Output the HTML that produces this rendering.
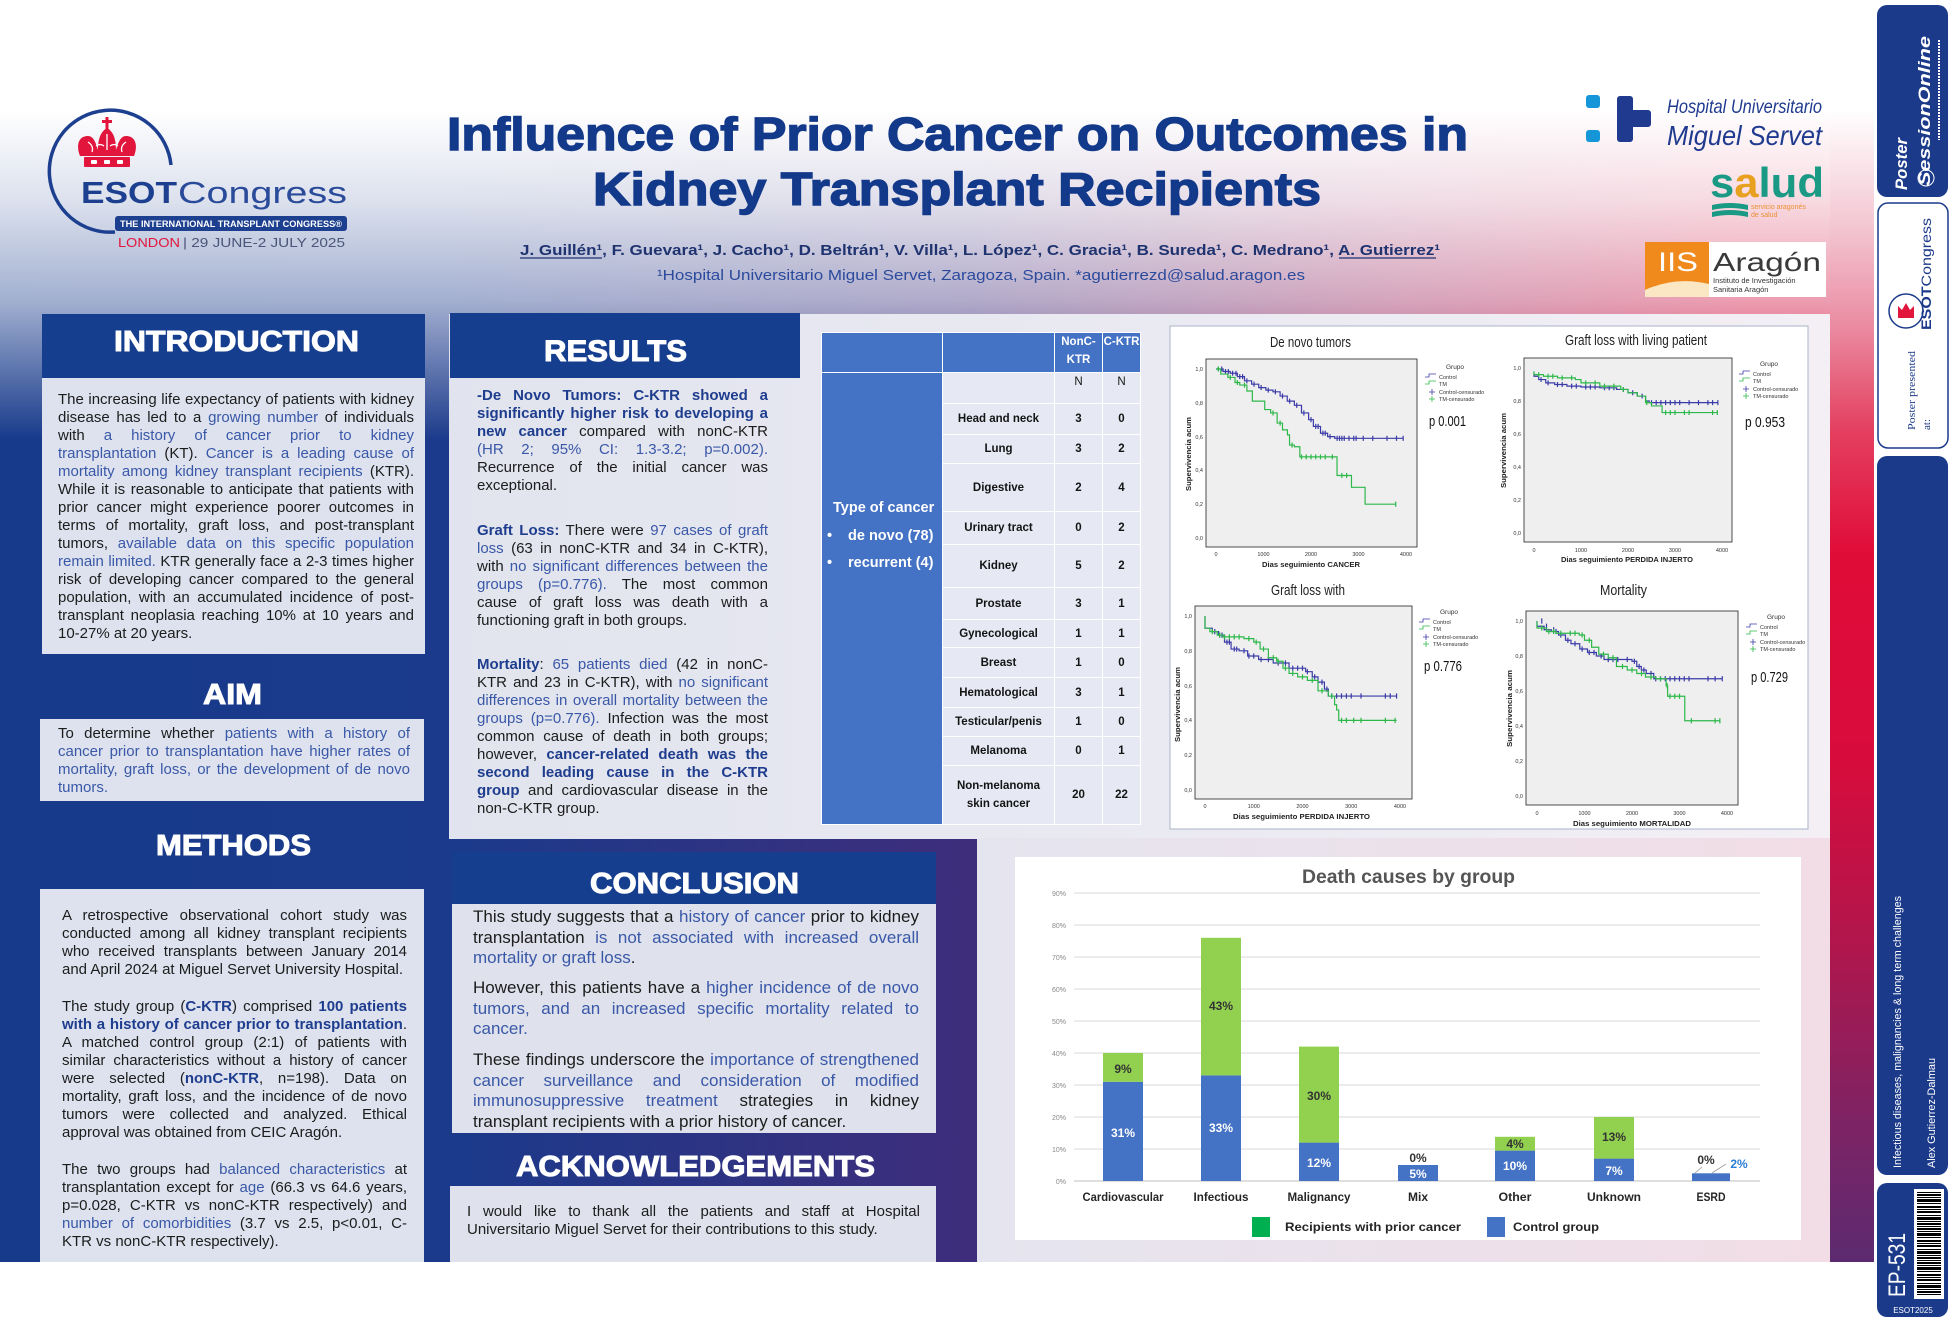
<!DOCTYPE html>
<html><head><meta charset="utf-8">
<style>
html,body{margin:0;padding:0}
body{width:1952px;height:1322px;position:relative;overflow:hidden;background:#fff;font-family:"Liberation Sans",Arial,sans-serif}
svg.main{position:absolute;left:0;top:0}
.t{position:absolute;font-family:"Liberation Sans",Arial,sans-serif;font-size:15px;line-height:18px;color:#1c1c1c}
.t>div{height:18px;overflow:hidden;text-align:justify;text-align-last:justify}
.t>div.l{text-align:left;text-align-last:left}
.t2{font-size:17px;line-height:20.5px}
.t2>div{height:20.5px}
.b{color:#3a58a8}
.k{color:#1f3d8e;font-weight:bold}
table.tb{position:absolute;left:821px;top:332px;border-collapse:collapse;table-layout:fixed;width:319px;font-family:"Liberation Sans",Arial,sans-serif}
.tb td{border:1px solid #fff;padding:0;text-align:center;vertical-align:middle;font-size:11.5px;font-weight:bold;color:#141414;background:#e6e9f3}
.tb tr.h td{background:#4472c4;color:#fff;vertical-align:top;line-height:18px;font-size:11.5px}
.tb td.c1{background:#4472c4}
.tc{position:absolute;color:#fff;font-weight:bold;font-size:14.5px;line-height:18px;font-family:"Liberation Sans",Arial,sans-serif;white-space:nowrap}
</style></head><body>
<svg class="main" width="1952" height="1322" viewBox="0 0 1952 1322" xmlns="http://www.w3.org/2000/svg">
<defs>
<linearGradient id="bgH" gradientUnits="userSpaceOnUse" x1="0" y1="0" x2="1874" y2="0">
<stop offset="0" stop-color="#173a8b"/><stop offset=".24" stop-color="#1b3a8b"/><stop offset=".52" stop-color="#3e2d7b"/><stop offset=".75" stop-color="#9a1f58"/><stop offset=".93" stop-color="#d00c3c"/><stop offset="1" stop-color="#d00c3c"/>
</linearGradient>
<linearGradient id="bgW" gradientUnits="userSpaceOnUse" x1="0" y1="0" x2="0" y2="440">
<stop offset="0" stop-color="#fff" stop-opacity="1"/><stop offset=".25" stop-color="#fff" stop-opacity="1"/><stop offset=".4545" stop-color="#fff" stop-opacity=".85"/><stop offset=".682" stop-color="#fff" stop-opacity=".6"/><stop offset=".84" stop-color="#fff" stop-opacity=".3"/><stop offset="1" stop-color="#fff" stop-opacity="0"/>
</linearGradient>
<linearGradient id="stp" gradientUnits="userSpaceOnUse" x1="0" y1="0" x2="0" y2="1262">
<stop offset="0" stop-color="#fff"/><stop offset=".087" stop-color="#fff"/><stop offset=".18" stop-color="#f3c6d2"/><stop offset=".26" stop-color="#ea8aa0"/><stop offset=".34" stop-color="#e44060"/><stop offset=".44" stop-color="#e00c38"/><stop offset=".6" stop-color="#d80c3c"/><stop offset=".75" stop-color="#b0164c"/><stop offset=".9" stop-color="#7a2466"/><stop offset="1" stop-color="#5c2a70"/>
</linearGradient>
<linearGradient id="resG" x1="0" y1="0" x2="1" y2="0"><stop offset="0" stop-color="#e1e4ee"/><stop offset="1" stop-color="#f3eff5"/></linearGradient>
<linearGradient id="chG" x1="0" y1="0" x2="1" y2="0"><stop offset="0" stop-color="#e5e5ef"/><stop offset="1" stop-color="#f2dde6"/></linearGradient>
</defs>

<!-- background -->
<rect x="0" y="0" width="1874" height="1262" fill="url(#bgH)"/>
<rect x="0" y="0" width="1874" height="1262" fill="url(#bgW)"/>
<rect x="1830" y="0" width="44" height="1262" fill="url(#stp)"/>

<!-- panels -->
<rect x="42" y="314" width="383" height="64" fill="#163e8e"/>
<rect x="42" y="378" width="383" height="276" fill="#dde2ee"/>
<rect x="40" y="719" width="384" height="82" fill="#dde2ee"/>
<rect x="40" y="889" width="384" height="373" fill="#dde2ee"/>
<rect x="449" y="314" width="1381" height="525" fill="url(#resG)"/>
<rect x="450" y="313" width="350" height="65" fill="#163e8e"/>
<rect x="452" y="852" width="484" height="52" fill="#163e8e"/>
<rect x="452" y="904" width="484" height="229" fill="#dfe2ec"/>
<rect x="450" y="1186" width="486" height="76" fill="#dfe2ec"/>
<rect x="977" y="838" width="853" height="424" fill="url(#chG)"/>
<rect x="1015" y="857" width="786" height="383" fill="#fff"/>
<rect x="1170" y="326" width="638" height="503" fill="#fff" stroke="#a9b3c8" stroke-width="1"/>

<!-- section headers -->
<g font-family="Liberation Sans, Arial, sans-serif" font-weight="bold" fill="#fff" stroke="#fff" stroke-width="1">
<text x="114" y="351" font-size="29" textLength="245" lengthAdjust="spacingAndGlyphs">INTRODUCTION</text>
<text x="544" y="361" font-size="30" textLength="143" lengthAdjust="spacingAndGlyphs">RESULTS</text>
<text x="203" y="704" font-size="29" textLength="59" lengthAdjust="spacingAndGlyphs">AIM</text>
<text x="156" y="855" font-size="29" textLength="155" lengthAdjust="spacingAndGlyphs">METHODS</text>
<text x="590" y="893" font-size="29" textLength="209" lengthAdjust="spacingAndGlyphs">CONCLUSION</text>
<text x="516" y="1176" font-size="29" textLength="359" lengthAdjust="spacingAndGlyphs">ACKNOWLEDGEMENTS</text>
</g>

<!-- title -->
<g font-family="Liberation Sans, Arial, sans-serif" font-weight="bold" fill="#13398a" stroke="#13398a" stroke-width="1.4">
<text x="447" y="150" font-size="46" textLength="1021" lengthAdjust="spacingAndGlyphs">Influence of Prior Cancer on Outcomes in</text>
<text x="593" y="205" font-size="46" textLength="728" lengthAdjust="spacingAndGlyphs">Kidney Transplant Recipients</text>
</g>
<text x="520" y="255" font-size="15" font-weight="bold" fill="#1f3370" textLength="920" lengthAdjust="spacingAndGlyphs" font-family="Liberation Sans, Arial, sans-serif">J. Guillén¹, F. Guevara¹, J. Cacho¹, D. Beltrán¹, V. Villa¹, L. López¹, C. Gracia¹, B. Sureda¹, C. Medrano¹, A. Gutierrez¹</text>
<line x1="520" y1="258" x2="602" y2="258" stroke="#1f3370" stroke-width="1.2"/>
<line x1="1339" y1="258" x2="1436" y2="258" stroke="#1f3370" stroke-width="1.2"/>
<text x="657" y="280" font-size="15" fill="#2b4a9c" textLength="648" lengthAdjust="spacingAndGlyphs" font-family="Liberation Sans, Arial, sans-serif">¹Hospital Universitario Miguel Servet, Zaragoza, Spain. *agutierrezd@salud.aragon.es</text>

<!-- ESOT logo -->
<path d="M171 165 A61 61 0 1 0 115 232" fill="none" stroke="#1c3f8f" stroke-width="3.5"/>
<g fill="#e2163c">
<rect x="84" y="157" width="46" height="10" rx="1"/>
<path d="M80 156 C76 146 78 136 88 136 C94 136 96 144 98 150 C98 140 100 132 107 128 C114 132 116 140 116 150 C118 144 120 136 126 136 C136 136 138 146 134 156 Z"/>
<rect x="105.5" y="117" width="3" height="12"/><rect x="102" y="120" width="10" height="3"/>
</g>
<g fill="#fff"><rect x="91" y="160" width="6" height="4" rx="1"/><rect x="104" y="160" width="6" height="4" rx="1"/><rect x="117" y="160" width="6" height="4" rx="1"/></g>
<path d="M88 142 q6 4 4 10 M126 142 q-6 4 -4 10 M107 134 v16 M96 146 q4 -3 8 0 M110 146 q4 -3 8 0" stroke="#fff" stroke-width="1.3" fill="none"/>
<text x="81" y="203" font-size="31" font-weight="bold" fill="#1c3f8f" textLength="96" lengthAdjust="spacingAndGlyphs" font-family="Liberation Sans, Arial, sans-serif">ESOT</text>
<text x="178" y="203" font-size="31" fill="#2a4a9a" textLength="169" lengthAdjust="spacingAndGlyphs" font-family="Liberation Sans, Arial, sans-serif">Congress</text>
<rect x="115" y="216" width="232" height="15" rx="3" fill="#1c3f8f"/>
<text x="120" y="227" font-size="9" font-weight="bold" fill="#fff" textLength="222" lengthAdjust="spacingAndGlyphs" font-family="Liberation Sans, Arial, sans-serif">THE INTERNATIONAL TRANSPLANT CONGRESS®</text>
<text x="118" y="247" font-size="13" fill="#e2163c" textLength="62" lengthAdjust="spacingAndGlyphs" font-family="Liberation Sans, Arial, sans-serif">LONDON</text>
<text x="183" y="247" font-size="13" fill="#4a5578" textLength="162" lengthAdjust="spacingAndGlyphs" font-family="Liberation Sans, Arial, sans-serif">| 29 JUNE-2 JULY 2025</text>

<!-- Hospital logo -->
<rect x="1586" y="95" width="14" height="13" rx="3" fill="#1596d8"/>
<rect x="1586" y="130" width="14" height="12" rx="3" fill="#1596d8"/>
<rect x="1617" y="96" width="16" height="46" rx="3" fill="#1f3a8e"/>
<rect x="1617" y="110" width="34" height="17" rx="3" fill="#1f3a8e"/>
<text x="1667" y="113" font-size="19" font-style="italic" fill="#1f3a8e" textLength="155" lengthAdjust="spacingAndGlyphs" font-family="Liberation Sans, Arial, sans-serif">Hospital Universitario</text>
<text x="1667" y="145" font-size="28" font-style="italic" fill="#1f3a8e" textLength="155" lengthAdjust="spacingAndGlyphs" font-family="Liberation Sans, Arial, sans-serif">Miguel Servet</text>
<!-- salud -->
<text x="1710" y="197" font-size="42" font-weight="bold" font-family="Liberation Sans, Arial, sans-serif" textLength="114" lengthAdjust="spacingAndGlyphs"><tspan fill="#1a9a84">s</tspan><tspan fill="#e8a020">a</tspan><tspan fill="#1a9a84">lud</tspan></text>
<path d="M1712 205 q18 -4 36 0 v5 q-18 -4 -36 0 Z M1712 212 q18 -4 36 0 v5 q-18 -4 -36 0 Z" fill="#1a9a84"/>
<text x="1751" y="209" font-size="7" fill="#e89030" font-family="Liberation Sans, Arial, sans-serif">servicio aragonés</text>
<text x="1751" y="217" font-size="7" fill="#e89030" font-family="Liberation Sans, Arial, sans-serif">de salud</text>
<!-- IIS -->
<rect x="1645" y="242" width="181" height="55" fill="#fff"/>
<rect x="1645" y="242" width="64" height="55" fill="#f08a1c"/>
<path d="M1645 290 q30 -14 64 -6 v13 h-64 Z" fill="#fbe7c4"/>
<text x="1658" y="271" font-size="27" fill="#fff" textLength="40" lengthAdjust="spacingAndGlyphs" font-family="Liberation Sans, Arial, sans-serif">IIS</text>
<text x="1713" y="271" font-size="26" fill="#3a3a3a" textLength="108" lengthAdjust="spacingAndGlyphs" font-family="Liberation Sans, Arial, sans-serif">Aragón</text>
<text x="1713" y="283" font-size="7.5" fill="#333" font-family="Liberation Sans, Arial, sans-serif">Instituto de Investigación</text>
<text x="1713" y="292" font-size="7.5" fill="#333" font-family="Liberation Sans, Arial, sans-serif">Sanitaria Aragón</text>

<!-- ===== KM plots ===== -->
<g font-family="Liberation Sans, Arial, sans-serif">
<text x="1270" y="347" font-size="15" fill="#222" textLength="81" lengthAdjust="spacingAndGlyphs">De novo tumors</text>
<text x="1565" y="345" font-size="15" fill="#222" textLength="142" lengthAdjust="spacingAndGlyphs">Graft loss with living patient</text>
<text x="1271" y="595" font-size="15" fill="#222" textLength="74" lengthAdjust="spacingAndGlyphs">Graft loss with</text>
<text x="1600" y="595" font-size="15" fill="#222" textLength="47" lengthAdjust="spacingAndGlyphs">Mortality</text>

<rect x="1206" y="359" width="211" height="188" fill="#efefef" stroke="#222" stroke-width=".8"/>
<rect x="1524" y="358" width="208" height="184" fill="#efefef" stroke="#222" stroke-width=".8"/>
<rect x="1195" y="606" width="217" height="193" fill="#efefef" stroke="#222" stroke-width=".8"/>
<rect x="1526" y="611" width="212" height="194" fill="#efefef" stroke="#222" stroke-width=".8"/>

<g font-size="5.5" fill="#333" text-anchor="end">
<text x="1203" y="371">1,0</text><text x="1203" y="405">0,8</text><text x="1203" y="439">0,6</text><text x="1203" y="472">0,4</text><text x="1203" y="506">0,2</text><text x="1203" y="540">0,0</text>
<text x="1521" y="370">1,0</text><text x="1521" y="403">0,8</text><text x="1521" y="436">0,6</text><text x="1521" y="469">0,4</text><text x="1521" y="502">0,2</text><text x="1521" y="535">0,0</text>
<text x="1192" y="618">1,0</text><text x="1192" y="653">0,8</text><text x="1192" y="688">0,6</text><text x="1192" y="722">0,4</text><text x="1192" y="757">0,2</text><text x="1192" y="792">0,0</text>
<text x="1523" y="623">1,0</text><text x="1523" y="658">0,8</text><text x="1523" y="693">0,6</text><text x="1523" y="728">0,4</text><text x="1523" y="763">0,2</text><text x="1523" y="798">0,0</text>
</g>
<g font-size="5.5" fill="#333" text-anchor="middle">
<text x="1216" y="556">0</text><text x="1263.5" y="556">1000</text><text x="1311" y="556">2000</text><text x="1358.5" y="556">3000</text><text x="1406" y="556">4000</text>
<text x="1534" y="552">0</text><text x="1581" y="552">1000</text><text x="1628" y="552">2000</text><text x="1675" y="552">3000</text><text x="1722" y="552">4000</text>
<text x="1205" y="808">0</text><text x="1253.75" y="808">1000</text><text x="1302.5" y="808">2000</text><text x="1351.25" y="808">3000</text><text x="1400" y="808">4000</text>
<text x="1537" y="815">0</text><text x="1584.5" y="815">1000</text><text x="1632" y="815">2000</text><text x="1679.5" y="815">3000</text><text x="1727" y="815">4000</text>
</g>
<g font-size="7.5" font-weight="bold" fill="#222">
<text x="1262" y="567" textLength="98" lengthAdjust="spacingAndGlyphs">Dias seguimiento CANCER</text>
<text x="1561" y="562" textLength="132" lengthAdjust="spacingAndGlyphs">Dias seguimiento PERDIDA INJERTO</text>
<text x="1233" y="819" textLength="137" lengthAdjust="spacingAndGlyphs">Dias seguimiento PERDIDA INJERTO</text>
<text x="1573" y="826" textLength="118" lengthAdjust="spacingAndGlyphs">Dias seguimiento MORTALIDAD</text>
<text transform="translate(1191,491) rotate(-90)" textLength="74" lengthAdjust="spacingAndGlyphs">Supervivencia acum</text>
<text transform="translate(1506,488) rotate(-90)" textLength="75" lengthAdjust="spacingAndGlyphs">Supervivencia acum</text>
<text transform="translate(1180,742) rotate(-90)" textLength="75" lengthAdjust="spacingAndGlyphs">Supervivencia acum</text>
<text transform="translate(1512,747) rotate(-90)" textLength="77" lengthAdjust="spacingAndGlyphs">Supervivencia acum</text>
</g>
<g font-size="15" fill="#111">
<text x="1429" y="426" textLength="37" lengthAdjust="spacingAndGlyphs">p 0.001</text>
<text x="1745" y="427" textLength="40" lengthAdjust="spacingAndGlyphs">p 0.953</text>
<text x="1424" y="671" textLength="38" lengthAdjust="spacingAndGlyphs">p 0.776</text>
<text x="1751" y="682" textLength="37" lengthAdjust="spacingAndGlyphs">p 0.729</text>
</g>

<!-- legends -->
<g transform="translate(1455,369)" font-size="5.5" fill="#333">
<text x="0" y="0" text-anchor="middle" font-size="6.5">Grupo</text>
<path d="M-30 8 h4 v-3 h7" stroke="#3b3ba8" fill="none" stroke-width=".8"/><text x="-16" y="10">Control</text>
<path d="M-30 15 h4 v-3 h7" stroke="#2db84a" fill="none" stroke-width=".8"/><text x="-16" y="17">TM</text>
<path d="M-26 23 h6 M-23 20 v6" stroke="#3b3ba8" stroke-width=".8"/><text x="-16" y="25">Control-censurado</text>
<path d="M-26 30 h6 M-23 27 v6" stroke="#2db84a" stroke-width=".8"/><text x="-16" y="32">TM-censurado</text>
</g>
<g transform="translate(1769,366)" font-size="5.5" fill="#333">
<text x="0" y="0" text-anchor="middle" font-size="6.5">Grupo</text>
<path d="M-30 8 h4 v-3 h7" stroke="#3b3ba8" fill="none" stroke-width=".8"/><text x="-16" y="10">Control</text>
<path d="M-30 15 h4 v-3 h7" stroke="#2db84a" fill="none" stroke-width=".8"/><text x="-16" y="17">TM</text>
<path d="M-26 23 h6 M-23 20 v6" stroke="#3b3ba8" stroke-width=".8"/><text x="-16" y="25">Control-censurado</text>
<path d="M-26 30 h6 M-23 27 v6" stroke="#2db84a" stroke-width=".8"/><text x="-16" y="32">TM-censurado</text>
</g>
<g transform="translate(1449,614)" font-size="5.5" fill="#333">
<text x="0" y="0" text-anchor="middle" font-size="6.5">Grupo</text>
<path d="M-30 8 h4 v-3 h7" stroke="#3b3ba8" fill="none" stroke-width=".8"/><text x="-16" y="10">Control</text>
<path d="M-30 15 h4 v-3 h7" stroke="#2db84a" fill="none" stroke-width=".8"/><text x="-16" y="17">TM</text>
<path d="M-26 23 h6 M-23 20 v6" stroke="#3b3ba8" stroke-width=".8"/><text x="-16" y="25">Control-censurado</text>
<path d="M-26 30 h6 M-23 27 v6" stroke="#2db84a" stroke-width=".8"/><text x="-16" y="32">TM-censurado</text>
</g>
<g transform="translate(1776,619)" font-size="5.5" fill="#333">
<text x="0" y="0" text-anchor="middle" font-size="6.5">Grupo</text>
<path d="M-30 8 h4 v-3 h7" stroke="#3b3ba8" fill="none" stroke-width=".8"/><text x="-16" y="10">Control</text>
<path d="M-30 15 h4 v-3 h7" stroke="#2db84a" fill="none" stroke-width=".8"/><text x="-16" y="17">TM</text>
<path d="M-26 23 h6 M-23 20 v6" stroke="#3b3ba8" stroke-width=".8"/><text x="-16" y="25">Control-censurado</text>
<path d="M-26 30 h6 M-23 27 v6" stroke="#2db84a" stroke-width=".8"/><text x="-16" y="32">TM-censurado</text>
</g>
</g>

<!-- KM curves plot 1 -->
<svg x="1216" y="369" width="190" height="169" viewBox="0 0 4000 1000" preserveAspectRatio="none" overflow="visible">
<g fill="none" stroke-width="1.2">
<path vector-effect="non-scaling-stroke" stroke="#3b3ba8" d="M0 0 H150 V15 H300 V25 H450 V45 H600 V70 H750 V90 H900 V110 H1050 V125 H1200 V135 H1350 V160 H1500 V190 H1650 V215 H1800 V260 H1950 V300 H2050 V340 H2200 V380 H2350 V400 H2500 V410 H3940"/>
<path vector-effect="non-scaling-stroke" stroke="#3b3ba8" d="M50 -15v30M120 -15v30M200 0v30M260 0v30M350 10v30M420 10v30M500 30v30M560 30v30M650 55v30M800 75v30M950 95v30M1100 110v30M1250 120v30M1400 145v30M1550 175v30M1700 200v30M1850 245v30M2000 285v30M2100 325v30M2150 325v30M2250 365v30M2300 365v30M2400 385v30M2550 395v30M2600 395v30M2650 395v30M2700 395v30M2800 395v30M2900 395v30M2950 395v30M3100 395v30M3300 395v30M3600 395v30M3800 395v30M3940 395v30"/>
<path vector-effect="non-scaling-stroke" stroke="#2db84a" d="M0 0 H100 V30 H250 V50 H400 V80 H500 V95 H650 V130 H765 V190 H900 V190 H1026 V240 H1150 V260 H1287 V320 H1400 V360 H1504 V390 H1548 V450 H1650 V460 H1765 V520 H2548 V630 H2852 V700 H3139 V800 H3783"/>
<path vector-effect="non-scaling-stroke" stroke="#2db84a" d="M50 -15v30M300 35v30M450 65v30M600 80v30M1200 245v30M1350 305v30M1600 435v30M1800 505v30M1900 505v30M2000 505v30M2100 505v30M2200 505v30M2300 505v30M2450 505v30M2650 615v30M2750 615v30M3783 785v30"/>
</g>
</svg>
<!-- plot 2 -->
<svg x="1534" y="368" width="188" height="165" viewBox="0 0 4000 1000" preserveAspectRatio="none" overflow="visible">
<g fill="none" stroke-width="1.2">
<path vector-effect="non-scaling-stroke" stroke="#3b3ba8" d="M0 30 V50 H100 V70 H250 V90 H440 V100 H700 V110 H1000 V115 H1400 V120 H1758 V130 H2000 V150 H2198 V170 H2374 V200 H2450 V210 H3912"/>
<path vector-effect="non-scaling-stroke" stroke="#3b3ba8" d="M150 55v30M300 75v30M500 85v30M600 85v30M800 95v30M900 95v30M1100 100v30M1200 100v30M1300 100v30M1500 105v30M1600 105v30M1700 105v30M1900 115v30M2100 135v30M2300 155v30M2500 195v30M2600 195v30M2700 195v30M2800 195v30M2900 195v30M3000 195v30M3100 195v30M3300 195v30M3500 195v30M3700 195v30M3800 195v30M3912 195v30"/>
<path vector-effect="non-scaling-stroke" stroke="#2db84a" d="M0 20 V40 H200 V50 H500 V60 H879 V70 H1000 V90 H1400 V110 H1846 V130 H2000 V150 H2198 V170 H2374 V210 H2500 V230 H2725 V270 H3912"/>
<path vector-effect="non-scaling-stroke" stroke="#2db84a" d="M100 25v30M300 35v30M400 35v30M600 45v30M800 45v30M1100 75v30M1300 75v30M1500 95v30M1700 95v30M1900 115v30M2400 195v30M2800 255v30M2900 255v30M3000 255v30M3200 255v30M3300 255v30M3800 255v30M3900 255v30"/>
</g>
</svg>
<!-- plot 3 -->
<svg x="1205" y="616" width="195" height="174" viewBox="0 0 4000 1000" preserveAspectRatio="none" overflow="visible">
<g fill="none" stroke-width="1.2">
<path vector-effect="non-scaling-stroke" stroke="#3b3ba8" d="M0 0 V70 H150 V90 H280 V110 H400 V150 H535 V190 H700 V200 H875 V230 H1100 V250 H1400 V270 H1724 V300 H2064 V320 H2200 V350 H2318 V380 H2450 V420 H2530 V460 H3930"/>
<path vector-effect="non-scaling-stroke" stroke="#3b3ba8" d="M200 75v30M300 95v30M350 95v30M450 135v30M500 135v30M600 175v30M650 175v30M800 185v30M900 215v30M1000 215v30M1150 235v30M1300 235v30M1500 255v30M1650 255v30M1800 285v30M1900 285v30M2000 285v30M2100 305v30M2250 335v30M2400 365v30M2500 405v30M2600 445v30M2700 445v30M2800 445v30M2900 445v30M3000 445v30M3200 445v30M3700 445v30M3800 445v30M3930 445v30"/>
<path vector-effect="non-scaling-stroke" stroke="#2db84a" d="M0 0 V70 H100 V90 H250 V110 H365 V120 H800 V130 H1000 V150 H1130 V190 H1300 V240 H1470 V260 H1600 V300 H1724 V330 H1900 V350 H2100 V370 H2318 V430 H2530 V460 H2658 V510 H2700 V540 H2743 V600 H3930"/>
<path vector-effect="non-scaling-stroke" stroke="#2db84a" d="M150 75v30M300 95v30M400 105v30M500 105v30M600 105v30M700 105v30M900 115v30M1050 135v30M1200 175v30M1400 225v30M1500 245v30M1650 285v30M1800 315v30M2000 335v30M2200 355v30M2400 415v30M2600 445v30M2800 585v30M2900 585v30M3050 585v30M3200 585v30M3700 585v30M3900 585v30"/>
</g>
</svg>
<!-- plot 4 -->
<svg x="1537" y="621" width="190" height="175" viewBox="0 0 4000 1000" preserveAspectRatio="none" overflow="visible">
<g fill="none" stroke-width="1.2">
<path vector-effect="non-scaling-stroke" stroke="#3b3ba8" d="M0 0 V30 H150 V50 H300 V60 H453 V80 H600 V110 H715 V130 H900 V160 H1063 V180 H1250 V200 H1411 V220 H2000 V230 H2100 V260 H2196 V280 H2300 V300 H2458 V330 H3900"/>
<path vector-effect="non-scaling-stroke" stroke="#3b3ba8" d="M100 -15v30M200 15v30M350 35v30M400 45v30M500 65v30M650 95v30M800 115v30M950 145v30M1100 165v30M1200 165v30M1350 185v30M1500 205v30M1600 205v30M1700 205v30M1900 205v30M2050 215v30M2150 245v30M2250 265v30M2400 285v30M2500 315v30M2600 315v30M2700 315v30M2800 315v30M2900 315v30M3000 315v30M3100 315v30M3200 315v30M3600 315v30M3750 315v30M3900 315v30"/>
<path vector-effect="non-scaling-stroke" stroke="#2db84a" d="M0 0 V40 H200 V60 H400 V70 H889 V80 H1000 V110 H1150 V150 H1300 V190 H1500 V210 H1673 V260 H1900 V280 H2100 V300 H2283 V320 H2500 V330 H2719 V370 H2750 V430 H3111 V570 H3850"/>
<path vector-effect="non-scaling-stroke" stroke="#2db84a" d="M100 25v30M250 45v30M350 45v30M500 55v30M700 55v30M800 55v30M950 65v30M1100 95v30M1400 175v30M1600 195v30M1800 245v30M2000 265v30M2200 285v30M2400 305v30M2600 315v30M2740 355v30M2800 415v30M2900 415v30M3000 415v30M3250 555v30M3750 555v30M3850 555v30"/>
</g>
</svg>

<!-- ===== Bar chart ===== -->
<g font-family="Liberation Sans, Arial, sans-serif">
<text x="1302" y="883" font-size="19" font-weight="bold" fill="#555" textLength="213" lengthAdjust="spacingAndGlyphs">Death causes by group</text>
<g stroke="#d9d9d9" stroke-width="1">
<line x1="1074" y1="893" x2="1760" y2="893"/><line x1="1074" y1="925" x2="1760" y2="925"/><line x1="1074" y1="957" x2="1760" y2="957"/><line x1="1074" y1="989" x2="1760" y2="989"/><line x1="1074" y1="1021" x2="1760" y2="1021"/><line x1="1074" y1="1053" x2="1760" y2="1053"/><line x1="1074" y1="1085" x2="1760" y2="1085"/><line x1="1074" y1="1117" x2="1760" y2="1117"/><line x1="1074" y1="1149" x2="1760" y2="1149"/>
</g>
<line x1="1074" y1="1181" x2="1760" y2="1181" stroke="#bfbfbf" stroke-width="1"/>
<g font-size="7" fill="#888" text-anchor="end">
<text x="1066" y="896">90%</text><text x="1066" y="928">80%</text><text x="1066" y="960">70%</text><text x="1066" y="992">60%</text><text x="1066" y="1024">50%</text><text x="1066" y="1056">40%</text><text x="1066" y="1088">30%</text><text x="1066" y="1120">20%</text><text x="1066" y="1152">10%</text><text x="1066" y="1184">0%</text>
</g>
<g fill="#4472c4">
<rect x="1103" y="1081.8" width="40" height="99.2"/>
<rect x="1201" y="1075.4" width="40" height="105.6"/>
<rect x="1299" y="1142.6" width="40" height="38.4"/>
<rect x="1398" y="1165" width="40" height="16"/>
<rect x="1495" y="1150.6" width="40" height="30.4"/>
<rect x="1594" y="1158.6" width="40" height="22.4"/>
<rect x="1692" y="1173.3" width="38" height="7.7"/>
</g>
<g fill="#92d050">
<rect x="1103" y="1053" width="40" height="28.8"/>
<rect x="1201" y="937.8" width="40" height="137.6"/>
<rect x="1299" y="1046.6" width="40" height="96"/>
<rect x="1495" y="1136.8" width="40" height="13.8"/>
<rect x="1594" y="1117" width="40" height="41.6"/>
</g>
<g font-size="12" font-weight="bold" text-anchor="middle">
<text x="1123" y="1073" fill="#333">9%</text><text x="1123" y="1137" fill="#fff">31%</text>
<text x="1221" y="1010" fill="#333">43%</text><text x="1221" y="1132" fill="#fff">33%</text>
<text x="1319" y="1100" fill="#333">30%</text><text x="1319" y="1167" fill="#fff">12%</text>
<text x="1418" y="1162" fill="#333">0%</text><text x="1418" y="1178" fill="#fff">5%</text>
<text x="1515" y="1148" fill="#333">4%</text><text x="1515" y="1170" fill="#fff">10%</text>
<text x="1614" y="1141" fill="#333">13%</text><text x="1614" y="1175" fill="#fff">7%</text>
<text x="1706" y="1164" fill="#333">0%</text><text x="1739" y="1168" fill="#2a7fd4">2%</text>
</g>
<path d="M1695 1173 L1702 1167 M1712 1173 L1726 1164" stroke="#999" stroke-width=".8" fill="none"/>
<g font-size="12" font-weight="bold" fill="#262626" text-anchor="middle">
<text x="1123" y="1201" textLength="81" lengthAdjust="spacingAndGlyphs">Cardiovascular</text>
<text x="1221" y="1201" textLength="55" lengthAdjust="spacingAndGlyphs">Infectious</text>
<text x="1319" y="1201" textLength="63" lengthAdjust="spacingAndGlyphs">Malignancy</text>
<text x="1418" y="1201" textLength="20" lengthAdjust="spacingAndGlyphs">Mix</text>
<text x="1515" y="1201" textLength="33" lengthAdjust="spacingAndGlyphs">Other</text>
<text x="1614" y="1201" textLength="54" lengthAdjust="spacingAndGlyphs">Unknown</text>
<text x="1711" y="1201" textLength="29" lengthAdjust="spacingAndGlyphs">ESRD</text>
</g>
<rect x="1252" y="1217" width="18" height="20" fill="#00b050"/>
<text x="1285" y="1231" font-size="12" font-weight="bold" fill="#262626" textLength="176" lengthAdjust="spacingAndGlyphs">Recipients with prior cancer</text>
<rect x="1487" y="1217" width="18" height="20" fill="#4472c4"/>
<text x="1513" y="1231" font-size="12" font-weight="bold" fill="#262626" textLength="86" lengthAdjust="spacingAndGlyphs">Control group</text>
</g>

<!-- ===== Sidebar ===== -->
<g font-family="Liberation Sans, Arial, sans-serif">
<rect x="1877" y="5" width="71" height="192" rx="10" fill="#1b3a8a"/>
<text transform="translate(1907,190) rotate(-90)" font-size="17" font-weight="bold" font-style="italic" fill="#fff" textLength="52" lengthAdjust="spacingAndGlyphs">Poster</text>
<text transform="translate(1930,186) rotate(-90)" font-size="17" font-weight="bold" font-style="italic" fill="#fff" textLength="150" lengthAdjust="spacingAndGlyphs">SessionOnline</text>
<line x1="1939" y1="40" x2="1939" y2="140" stroke="#fff" stroke-width="2" stroke-dasharray="2 1"/>
<circle cx="1926" cy="178" r="8" fill="none" stroke="#fff" stroke-width="1"/>

<rect x="1878" y="203" width="70" height="245" rx="10" fill="#fff" stroke="#1b3a8a" stroke-width="1.5"/>
<circle cx="1906" cy="311" r="17" fill="none" stroke="#1b3a8a" stroke-width="1.5"/>
<path d="M1898 318 v-12 l4 4 l4 -7 l4 7 l4 -4 v12 Z" fill="#e2163c"/>
<text transform="translate(1931,330) rotate(-90)" font-size="14" fill="#1b3a8a" textLength="112" lengthAdjust="spacingAndGlyphs"><tspan font-weight="bold">ESOT</tspan>Congress</text>
<text transform="translate(1915,430) rotate(-90)" font-size="11" fill="#1b3a8a" font-family="Liberation Serif, serif" textLength="79" lengthAdjust="spacingAndGlyphs">Poster presented</text>
<text transform="translate(1930,430) rotate(-90)" font-size="11" fill="#1b3a8a" font-family="Liberation Serif, serif">at:</text>

<rect x="1877" y="456" width="71" height="719" rx="10" fill="#1b3a8a"/>
<text transform="translate(1901,1168) rotate(-90)" font-size="11" fill="#fff" textLength="272" lengthAdjust="spacingAndGlyphs">Infectious diseases, malignancies &amp; long term challenges</text>
<text transform="translate(1935,1168) rotate(-90)" font-size="11" fill="#fff" textLength="110" lengthAdjust="spacingAndGlyphs">Alex Gutierrez-Dalmau</text>

<rect x="1877" y="1183" width="71" height="134" rx="10" fill="#1b3a8a"/>
<text transform="translate(1905,1297) rotate(-90)" font-size="24" fill="#fff" textLength="64" lengthAdjust="spacingAndGlyphs">EP-531</text>
<rect x="1914" y="1189" width="30" height="110" fill="#fff"/>
<line x1="1929" y1="1192" x2="1929" y2="1296" stroke="#000" stroke-width="24" stroke-dasharray="1 1 2 1 1 1 3 1 1 2 2 1 1 1 2 2 1 1 3 1 1 1 2 1"/>
<text x="1913" y="1313" font-size="8" fill="#fff" text-anchor="middle">ESOT2025</text>
</g>
</svg>

<!-- ===== Text blocks ===== -->
<div class="t" style="left:58px;top:391px;width:356px">
<div>The increasing life expectancy of patients with kidney</div>
<div>disease has led to a <span class="b">growing number</span> of individuals</div>
<div>with <span class="b">a history of cancer prior to kidney</span></div>
<div><span class="b">transplantation</span> (KT). <span class="b">Cancer is a leading cause of</span></div>
<div><span class="b">mortality among kidney transplant recipients</span> (KTR).</div>
<div>While it is reasonable to anticipate that patients with</div>
<div>prior cancer might experience poorer outcomes in</div>
<div>terms of mortality, graft loss, and post-transplant</div>
<div>tumors, <span class="b">available data on this specific population</span></div>
<div><span class="b">remain limited.</span> KTR generally face a 2-3 times higher</div>
<div>risk of developing cancer compared to the general</div>
<div>population, with an accumulated incidence of post-</div>
<div>transplant neoplasia reaching 10% at 10 years and</div>
<div class="l">10-27% at 20 years.</div>
</div>

<div class="t" style="left:58px;top:725px;width:352px">
<div>To determine whether <span class="b">patients with a history of</span></div>
<div><span class="b">cancer prior to transplantation have higher rates of</span></div>
<div><span class="b">mortality, graft loss, or the development of de novo</span></div>
<div class="l"><span class="b">tumors.</span></div>
</div>

<div class="t" style="left:62px;top:907px;width:345px">
<div>A retrospective observational cohort study was</div>
<div>conducted among all kidney transplant recipients</div>
<div>who received transplants between January 2014</div>
<div class="l">and April 2024 at Miguel Servet University Hospital.</div>
</div>
<div class="t" style="left:62px;top:998px;width:345px">
<div>The study group (<span class="k">C-KTR</span>) comprised <span class="k">100 patients</span></div>
<div><span class="k">with a history of cancer prior to transplantation</span>.</div>
<div>A matched control group (2:1) of patients with</div>
<div>similar characteristics without a history of cancer</div>
<div>were selected (<span class="k">nonC-KTR</span>, n=198). Data on</div>
<div>mortality, graft loss, and the incidence of de novo</div>
<div>tumors were collected and analyzed. Ethical</div>
<div class="l">approval was obtained from CEIC Aragón.</div>
</div>
<div class="t" style="left:62px;top:1161px;width:345px">
<div>The two groups had <span class="b">balanced characteristics</span> at</div>
<div>transplantation except for <span class="b">age</span> (66.3 vs 64.6 years,</div>
<div>p=0.028, C-KTR vs nonC-KTR respectively) and</div>
<div><span class="b">number of comorbidities</span> (3.7 vs 2.5, p&lt;0.01, C-</div>
<div class="l">KTR vs nonC-KTR respectively).</div>
</div>

<div class="t" style="left:477px;top:387px;width:291px">
<div><span class="k">-De Novo Tumors: C-KTR showed a</span></div>
<div><span class="k">significantly higher risk to developing a</span></div>
<div><span class="k">new cancer</span> compared with nonC-KTR</div>
<div><span class="b">(HR 2; 95% CI: 1.3-3.2; p=0.002).</span></div>
<div>Recurrence of the initial cancer was</div>
<div class="l">exceptional.</div>
</div>
<div class="t" style="left:477px;top:522px;width:291px">
<div><span class="k">Graft Loss:</span> There were <span class="b">97 cases of graft</span></div>
<div><span class="b">loss</span> (63 in nonC-KTR and 34 in C-KTR),</div>
<div>with <span class="b">no significant differences between the</span></div>
<div><span class="b">groups (p=0.776).</span> The most common</div>
<div>cause of graft loss was death with a</div>
<div class="l">functioning graft in both groups.</div>
</div>
<div class="t" style="left:477px;top:656px;width:291px">
<div><span class="k">Mortality</span>: <span class="b">65 patients died</span> (42 in nonC-</div>
<div>KTR and 23 in C-KTR), with <span class="b">no significant</span></div>
<div><span class="b">differences in overall mortality between the</span></div>
<div><span class="b">groups (p=0.776).</span> Infection was the most</div>
<div>common cause of death in both groups;</div>
<div>however, <span class="k">cancer-related death was the</span></div>
<div><span class="k">second leading cause in the C-KTR</span></div>
<div><span class="k">group</span> and cardiovascular disease in the</div>
<div class="l">non-C-KTR group.</div>
</div>

<div class="t t2" style="left:473px;top:907px;width:446px">
<div>This study suggests that a <span class="b">history of cancer</span> prior to kidney</div>
<div>transplantation <span class="b">is not associated with increased overall</span></div>
<div class="l"><span class="b">mortality or graft loss</span>.</div>
</div>
<div class="t t2" style="left:473px;top:978px;width:446px">
<div>However, this patients have a <span class="b">higher incidence of de novo</span></div>
<div><span class="b">tumors, and an increased specific mortality related to</span></div>
<div class="l"><span class="b">cancer.</span></div>
</div>
<div class="t t2" style="left:473px;top:1050px;width:446px">
<div>These findings underscore the <span class="b">importance of strengthened</span></div>
<div><span class="b">cancer surveillance and consideration of modified</span></div>
<div><span class="b">immunosuppressive treatment</span> strategies in kidney</div>
<div class="l">transplant recipients with a prior history of cancer.</div>
</div>

<div class="t" style="left:467px;top:1203px;width:453px">
<div>I would like to thank all the patients and staff at Hospital</div>
<div class="l">Universitario Miguel Servet for their contributions to this study.</div>
</div>

<!-- ===== Table ===== -->
<table class="tb">
<colgroup><col style="width:121px"><col style="width:112px"><col style="width:48px"><col style="width:38px"></colgroup>
<tr class="h" style="height:40px"><td></td><td></td><td>NonC-<br>KTR</td><td>C-KTR</td></tr>
<tr style="height:31px"><td class="c1" rowspan="13"></td><td></td><td style="vertical-align:top;padding-top:3px;font-weight:normal">N</td><td style="vertical-align:top;padding-top:3px;font-weight:normal">N</td></tr>
<tr style="height:31px"><td>Head and neck</td><td>3</td><td>0</td></tr>
<tr style="height:29px"><td>Lung</td><td>3</td><td>2</td></tr>
<tr style="height:48px"><td>Digestive</td><td>2</td><td>4</td></tr>
<tr style="height:33px"><td>Urinary tract</td><td>0</td><td>2</td></tr>
<tr style="height:43px"><td>Kidney</td><td>5</td><td>2</td></tr>
<tr style="height:32px"><td>Prostate</td><td>3</td><td>1</td></tr>
<tr style="height:28px"><td>Gynecological</td><td>1</td><td>1</td></tr>
<tr style="height:30px"><td>Breast</td><td>1</td><td>0</td></tr>
<tr style="height:30px"><td>Hematological</td><td>3</td><td>1</td></tr>
<tr style="height:29px"><td>Testicular/penis</td><td>1</td><td>0</td></tr>
<tr style="height:29px"><td>Melanoma</td><td>0</td><td>1</td></tr>
<tr style="height:59px"><td style="line-height:18px">Non-melanoma<br>skin cancer</td><td>20</td><td>22</td></tr>
</table>
<div class="tc" style="left:833px;top:499px">Type of cancer</div>
<div class="tc" style="left:827px;top:527px">•</div>
<div class="tc" style="left:848px;top:527px">de novo (78)</div>
<div class="tc" style="left:827px;top:554px">•</div>
<div class="tc" style="left:848px;top:554px">recurrent (4)</div>
</body></html>
